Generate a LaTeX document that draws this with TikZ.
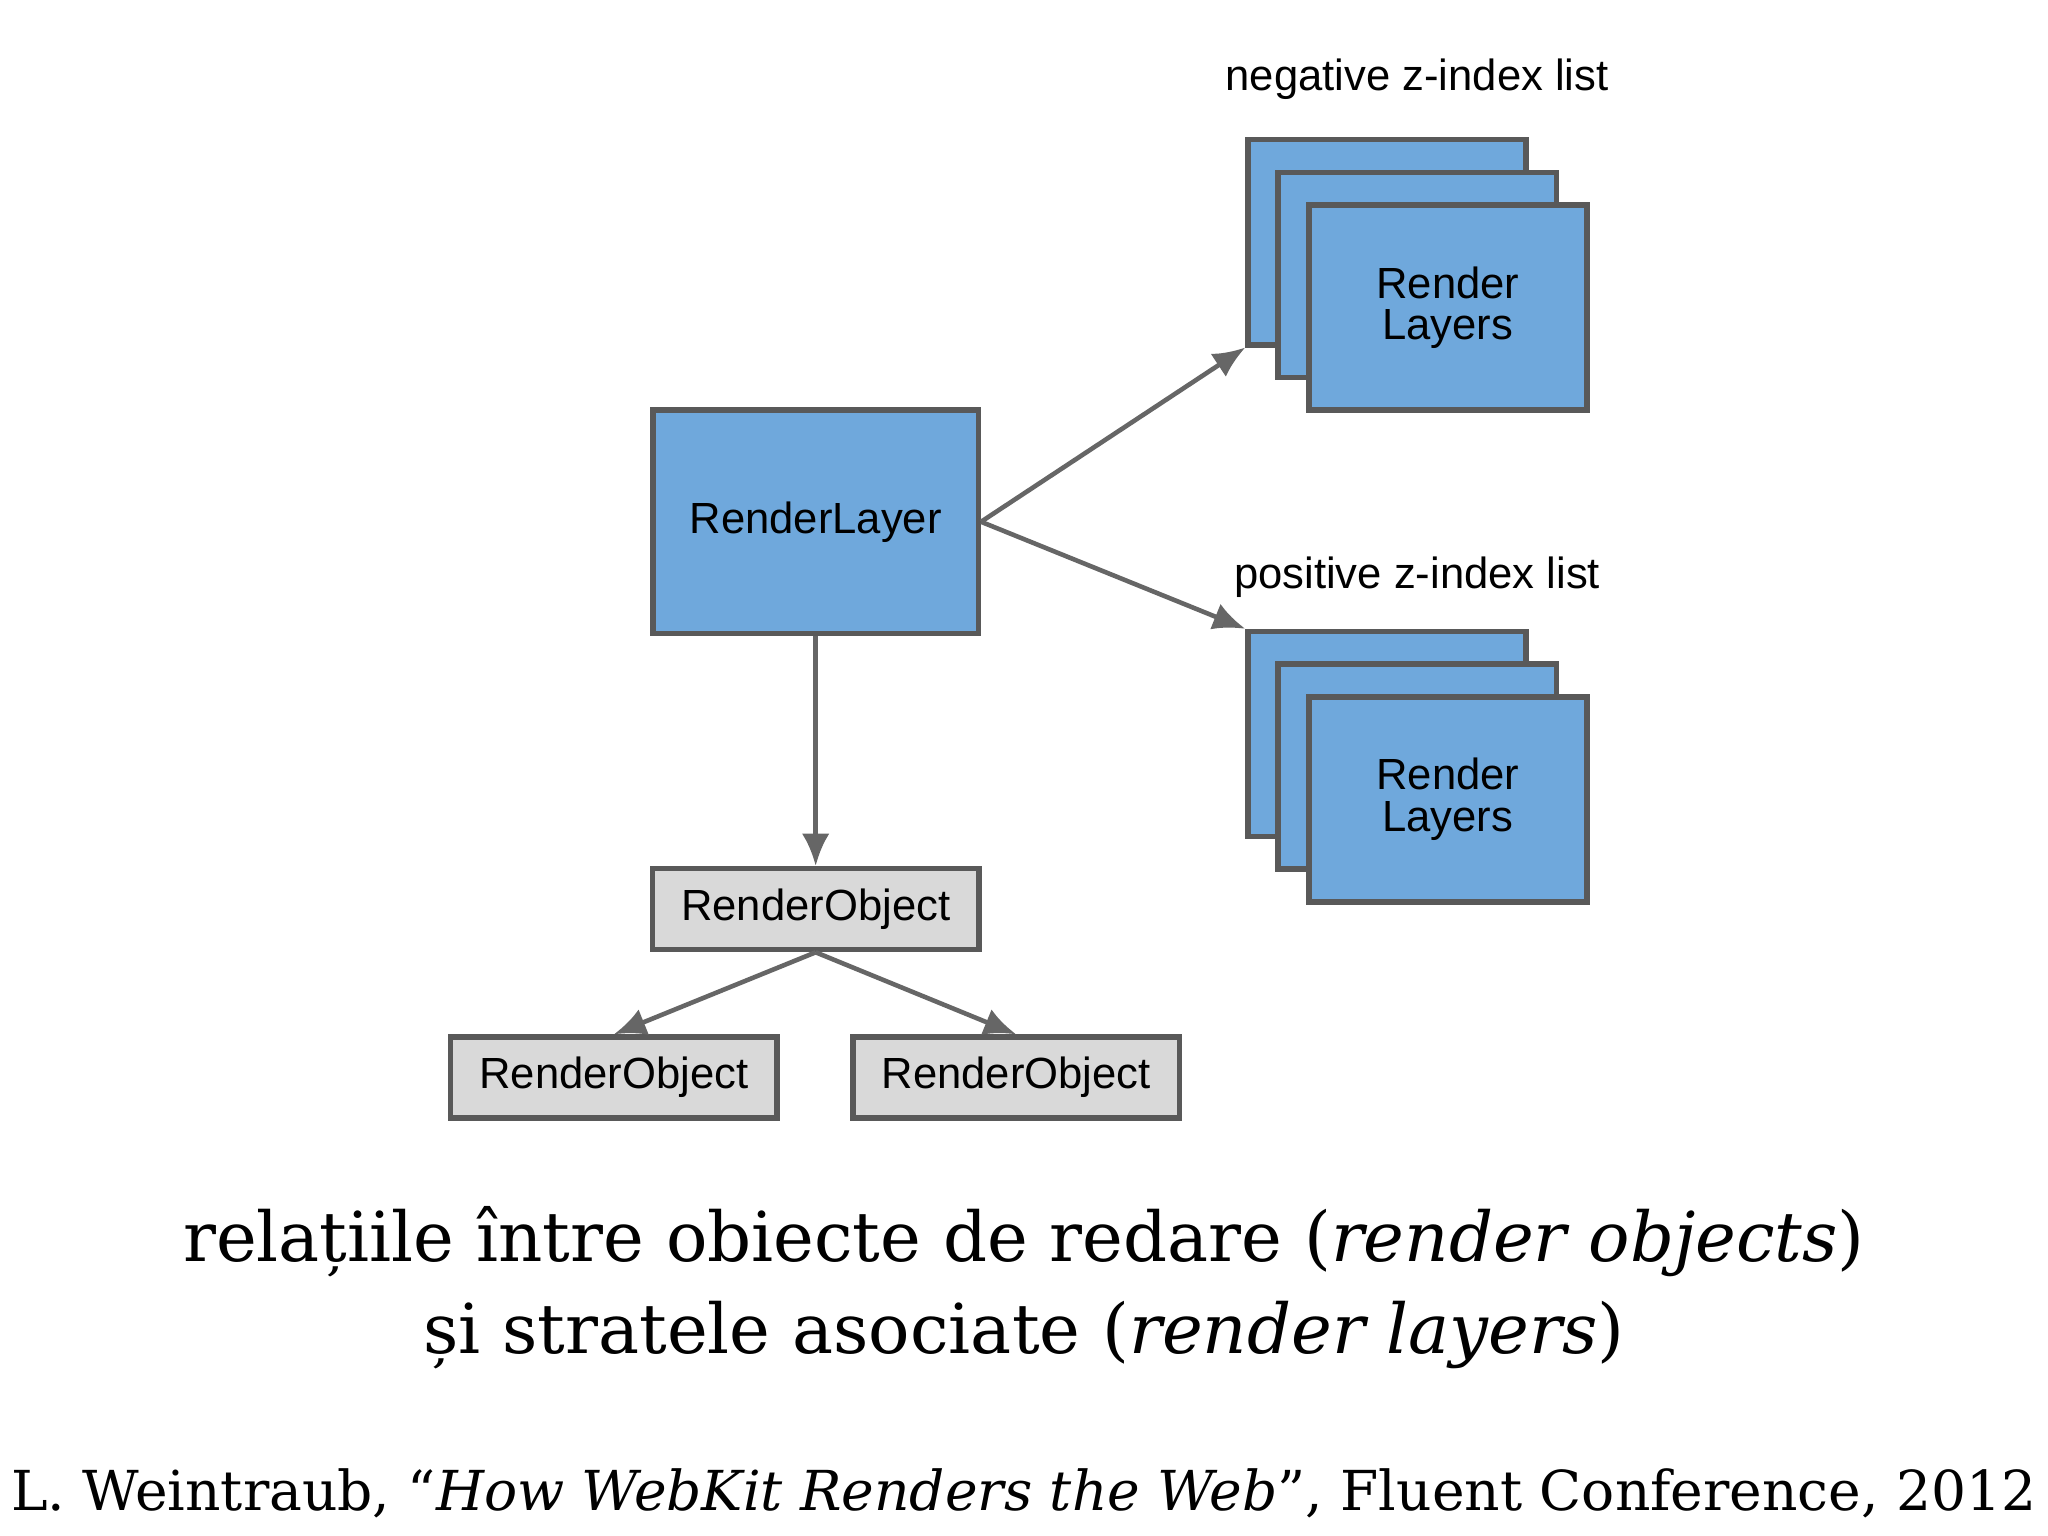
\documentclass[tikz,border=0pt]{standalone}
\usepackage{fontspec}
\setmainfont{DejaVu Serif}
\newfontfamily\boxfont{Liberation Sans}
\usetikzlibrary{arrows.meta,positioning}

\definecolor{layerblue}{RGB}{111,168,220}
\definecolor{objgray}{RGB}{217,217,217}

\tikzset{
    layer/.style={draw=black!65, line width=1.2pt, fill=layerblue,
        minimum width=2.13cm, minimum height=1.57cm, inner sep=0pt, font=\boxfont\fontsize{9.5}{11}\selectfont, align=center},
    robj/.style={draw=black!65, line width=1.2pt, fill=objgray,
        minimum width=2.5cm, minimum height=0.62cm, inner sep=0pt, font=\boxfont\fontsize{9.5}{11}\selectfont},
    link/.style={draw=black!60, line width=1pt, -{Latex[length=7pt,width=6pt]}},
    tag/.style={font=\boxfont\fontsize{9.5}{11}\selectfont}
}

\begin{document}
\begin{tikzpicture}
\useasboundingbox (0,0) rectangle (15.68,-11.76);

% Main layer
\node[layer, minimum width=2.49cm, minimum height=1.71cm] (main) at (6.245,-3.995) {RenderLayer};

% Negative z-index stack
\node[tag] (negtag) at (10.85,-0.61) {negative z-index list};
\node[layer] (neg1) at (10.62,-1.855) {};
\node[layer] (neg2) at (10.85,-2.105) {};
\node[layer] (neg3) at (11.085,-2.355) {Render\\[-2pt]Layers};

% Positive z-index stack
\node[tag] (postag) at (10.85,-4.42) {positive z-index list};
\node[layer] (pos1) at (10.62,-5.62) {};
\node[layer] (pos2) at (10.85,-5.87) {};
\node[layer] (pos3) at (11.085,-6.12) {Render\\[-2pt]Layers};

% Render objects
\node[robj] (obj) at (6.245,-6.96) {RenderObject};
\node[robj] (objl) at (4.70,-8.25) {RenderObject};
\node[robj] (objr) at (7.78,-8.25) {RenderObject};

% Connectors
\draw[link] (main.east) -- (neg1.south west);
\draw[link] (main.east) -- (pos1.north west);
\draw[link] (main.south) -- (obj.north);
\draw[link] (obj.south) -- (objl.north);
\draw[link] (obj.south) -- (objr.north);

% Caption
\node[font=\fontsize{15}{18}\selectfont, align=center] (caption) at (7.84,-9.86)
    {relațiile între obiecte de redare (\textit{render objects})\\[2pt]
     și stratele asociate (\textit{render layers})};
\node[font=\fontsize{12}{14}\selectfont] (source) at (7.84,-11.43)
    {L. Weintraub, “\textit{How WebKit Renders the Web}”, Fluent Conference, 2012};
\end{tikzpicture}
\end{document}
